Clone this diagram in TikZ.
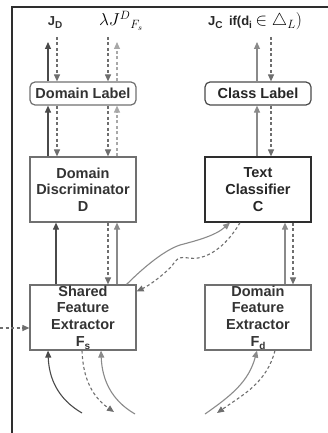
\documentclass[tikz,border=0pt]{standalone}
\usepackage{fontspec}
\setmainfont{Liberation Sans}
\usetikzlibrary{arrows.meta}

\definecolor{framegray}{HTML}{2E2E2E}
\definecolor{boxgray}{HTML}{707070}
\definecolor{textgray}{HTML}{333333}
\definecolor{fwdark}{HTML}{4A4A4A}
\definecolor{fwlight}{HTML}{8A8A8A}
\definecolor{bwdark}{HTML}{6E6E6E}
\definecolor{bwlight}{HTML}{A8A8A8}

\newcommand{\lowsub}[1]{\raisebox{-0.4ex}{\fontsize{10}{10}\selectfont #1}}
\newcommand{\bigmath}[1]{{\fontsize{17}{20}\selectfont\color{black}$#1$}}

\begin{document}
\begin{tikzpicture}[x=1pt,y=-1pt,
    box/.style={draw=boxgray,line width=1.2pt,minimum width=106pt,inner sep=0pt,
      align=center,text=textgray,font=\fontsize{14.5}{16.7}\selectfont\bfseries},
    labelbox/.style={box,rounded corners=5pt,minimum height=23pt},
    bigbox/.style={box,minimum height=65pt},
    toplabel/.style={inner sep=0pt,anchor=base,text=textgray,font=\fontsize{13}{15}\selectfont\bfseries},
    fw/.style={-{Triangle[length=7pt,width=6pt]},draw=fwdark,line width=1.1pt},
    bw/.style={-{Triangle[length=7pt,width=6pt]},draw=bwdark,line width=1.1pt,dash pattern=on 3pt off 2.5pt}]

  \useasboundingbox (0,0) rectangle (328,433);
  \draw[framegray,line width=1.4pt] (12,433) -- (12,7) -- (328,7);

  % boxes
  \node[labelbox] (dl) at (83,93.5) {Domain Label};
  \node[labelbox,draw=fwdark,text=black!85] (cl) at (258,93.5) {Class Label};
  \node[bigbox] (dd) at (83,189.5) {Domain\\Discriminator\\D};
  \node[bigbox,draw=framegray,text=black!85] (tc) at (258,189.5) {Text\\Classifier\\C};
  \node[bigbox] (sfe) at (83,317.5) {Shared\\Feature\\Extractor\\F\lowsub{s}};
  \node[bigbox] (dfe) at (258,317.5) {Domain\\Feature\\Extractor\\F\lowsub{d}};

  % objectives
  \node[toplabel] (jd) at (55,26) {J\lowsub{D}};
  \node[toplabel] (lam) at (121,26) {\bigmath{\lambda J^{D}{}_{F_s}}};
  \node[toplabel,text=black!85] (jc) at (255,26) {J\lowsub{C}\enspace if(d\lowsub{i}\ \bigmath{\in\triangle_{L})}};

  % free ends
  \coordinate (jdup) at (48,42);
  \coordinate (jddn) at (57,37);
  \coordinate (lamdn) at (108,37);
  \coordinate (lamup) at (117,42);
  \coordinate (jcup) at (257,42);
  \coordinate (jcdn) at (271,37);
  \coordinate (src) at (0,328);
  \coordinate (b1) at (82,413);
  \coordinate (b2) at (114,412);
  \coordinate (b3) at (135,414);
  \coordinate (b4) at (205,414);
  \coordinate (b5) at (217,413);

  % left column
  \path ([xshift=-35pt]dl.north) edge[fw] (jdup);
  \path (jddn) edge[bw] ([xshift=-26pt]dl.north);
  \path (lamdn) edge[bw] ([xshift=25pt]dl.north);
  \path ([xshift=34pt]dl.north) edge[bw,draw=bwlight] (lamup);
  \path ([xshift=-35pt]dd.north) edge[fw] ([xshift=-35pt]dl.south);
  \path ([xshift=-26pt]dl.south) edge[bw] ([xshift=-26pt]dd.north);
  \path ([xshift=25pt]dl.south) edge[bw] ([xshift=25pt]dd.north);
  \path ([xshift=34pt]dd.north) edge[bw,draw=bwlight] ([xshift=34pt]dl.south);
  \path ([xshift=-27pt]sfe.north) edge[fw] ([xshift=-27pt]dd.south);
  \path ([xshift=25pt]dd.south) edge[bw] ([xshift=25pt]sfe.north);
  \path ([xshift=34pt]sfe.north) edge[fw,draw=fwlight] ([xshift=34pt]dd.south);

  % right column
  \path ([xshift=-1pt]cl.north) edge[fw,draw=fwlight] (jcup);
  \path (jcdn) edge[bw] ([xshift=13pt]cl.north);
  \path ([xshift=-1pt]tc.north) edge[fw,draw=fwlight] ([xshift=-1pt]cl.south);
  \path ([xshift=13pt]cl.south) edge[bw] ([xshift=13pt]tc.north);
  \path ([xshift=27pt]dfe.north) edge[fw,draw=fwlight] ([xshift=27pt]tc.south);
  \path ([xshift=35pt]tc.south) edge[bw] ([xshift=35pt]dfe.north);

  % shared features to classifier and back
  \draw[fw,draw=fwlight] ([xshift=-10pt]sfe.north east)
    .. controls (145,266) and (165,250) .. (180,245)
    .. controls (195,241) and (215,236) .. ([xshift=-28pt]tc.south);
  \draw[bw] ([xshift=-18pt]tc.south)
    .. controls (230,240) and (215,255) .. (198,258)
    .. controls (185,260) and (180,252) .. (172,266)
    .. controls (160,278) and (148,286) .. ([yshift=-7pt]sfe.north east);

  % inputs
  \path (src) edge[bw] ([yshift=-10.5pt]sfe.west);
  \draw[fw] (b1) to[out=150,in=-88] ([xshift=-35pt]sfe.south);
  \draw[bw] ([xshift=-1pt]sfe.south) to[out=-88,in=145] (b2);
  \draw[fw,draw=fwlight] (b3) to[out=150,in=-88] ([xshift=18pt]sfe.south);
  \draw[fw,draw=fwlight] (b4) to[out=35,in=-105] ([xshift=-1pt]dfe.south);
  \draw[bw] ([xshift=17pt]dfe.south) to[out=-105,in=35] (b5);

\end{tikzpicture}
\end{document}
